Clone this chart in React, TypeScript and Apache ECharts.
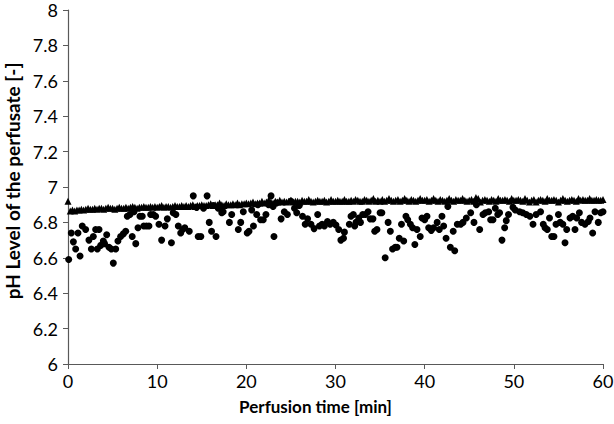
import React, { useEffect, useRef } from "react";
import * as echarts from "echarts";

const xTicks = [0, 10, 20, 30, 40, 50, 60];
const yRange = [6, 8];

const triangleTimes = [
  0, 0.25, 0.5, 0.75, 1, 1.25, 1.5, 1.75, 2, 2.25, 2.5, 2.75, 3, 3.25, 3.5, 3.75, 4, 4.25, 4.5, 4.75,
  5, 5.25, 5.5, 5.75, 6, 6.25, 6.5, 6.75, 7, 7.25, 7.5, 7.75, 8, 8.25, 8.5, 8.75, 9, 9.25, 9.5, 9.75,
  10, 10.25, 10.5, 10.75, 11, 11.25, 11.5, 11.75, 12, 12.25, 12.5, 12.75, 13, 13.25, 13.5, 13.75, 14, 14.25, 14.5, 14.75,
  15, 15.25, 15.5, 15.75, 16, 16.25, 16.5, 16.75, 17, 17.25, 17.5, 17.75, 18, 18.25, 18.5, 18.75, 19, 19.25, 19.5, 19.75,
  20, 20.25, 20.5, 20.75, 21, 21.25, 21.5, 21.75, 22, 22.25, 22.5, 22.75, 23, 23.25, 23.5, 23.75, 24, 24.25, 24.5, 24.75,
  25, 25.25, 25.5, 25.75, 26, 26.25, 26.5, 26.75, 27, 27.25, 27.5, 27.75, 28, 28.25, 28.5, 28.75, 29, 29.25, 29.5, 29.75,
  30, 30.25, 30.5, 30.75, 31, 31.25, 31.5, 31.75, 32, 32.25, 32.5, 32.75, 33, 33.25, 33.5, 33.75, 34, 34.25, 34.5, 34.75,
  35, 35.25, 35.5, 35.75, 36, 36.25, 36.5, 36.75, 37, 37.25, 37.5, 37.75, 38, 38.25, 38.5, 38.75, 39, 39.25, 39.5, 39.75,
  40, 40.25, 40.5, 40.75, 41, 41.25, 41.5, 41.75, 42, 42.25, 42.5, 42.75, 43, 43.25, 43.5, 43.75, 44, 44.25, 44.5, 44.75,
  45, 45.25, 45.5, 45.75, 46, 46.25, 46.5, 46.75, 47, 47.25, 47.5, 47.75, 48, 48.25, 48.5, 48.75, 49, 49.25, 49.5, 49.75,
  50, 50.25, 50.5, 50.75, 51, 51.25, 51.5, 51.75, 52, 52.25, 52.5, 52.75, 53, 53.25, 53.5, 53.75, 54, 54.25, 54.5, 54.75,
  55, 55.25, 55.5, 55.75, 56, 56.25, 56.5, 56.75, 57, 57.25, 57.5, 57.75, 58, 58.25, 58.5, 58.75, 59, 59.25, 59.5, 59.75,
  60,
];

const triangleValues = [
  6.92, 6.865, 6.87, 6.865, 6.87, 6.87, 6.875, 6.87, 6.875, 6.88, 6.875, 6.875, 6.88, 6.875, 6.88, 6.88, 6.875, 6.88, 6.885, 6.88,
  6.88, 6.875, 6.88, 6.885, 6.88, 6.88, 6.885, 6.88, 6.885, 6.89, 6.885, 6.88, 6.885, 6.885, 6.89, 6.885, 6.885, 6.89, 6.885, 6.89,
  6.885, 6.89, 6.895, 6.885, 6.89, 6.89, 6.885, 6.89, 6.895, 6.89, 6.89, 6.895, 6.89, 6.895, 6.89, 6.895, 6.9, 6.89, 6.895, 6.895,
  6.9, 6.895, 6.895, 6.9, 6.905, 6.895, 6.9, 6.9, 6.91, 6.9, 6.895, 6.905, 6.9, 6.9, 6.905, 6.9, 6.91, 6.9, 6.905, 6.905,
  6.91, 6.905, 6.91, 6.915, 6.905, 6.91, 6.91, 6.92, 6.91, 6.915, 6.925, 6.915, 6.91, 6.92, 6.915, 6.925, 6.915, 6.92, 6.915, 6.92,
  6.925, 6.915, 6.92, 6.92, 6.915, 6.925, 6.92, 6.92, 6.93, 6.92, 6.915, 6.92, 6.925, 6.92, 6.92, 6.925, 6.915, 6.92, 6.93, 6.92,
  6.92, 6.925, 6.92, 6.92, 6.93, 6.92, 6.92, 6.925, 6.92, 6.93, 6.925, 6.92, 6.92, 6.93, 6.925, 6.92, 6.925, 6.935, 6.92, 6.925,
  6.92, 6.93, 6.92, 6.925, 6.935, 6.925, 6.92, 6.925, 6.93, 6.92, 6.925, 6.935, 6.925, 6.92, 6.93, 6.925, 6.92, 6.925, 6.935, 6.925,
  6.925, 6.93, 6.92, 6.925, 6.935, 6.925, 6.92, 6.93, 6.925, 6.92, 6.925, 6.935, 6.925, 6.92, 6.93, 6.925, 6.925, 6.935, 6.925, 6.92,
  6.925, 6.93, 6.92, 6.94, 6.935, 6.915, 6.925, 6.93, 6.925, 6.92, 6.93, 6.925, 6.92, 6.935, 6.925, 6.925, 6.93, 6.925, 6.92, 6.935,
  6.925, 6.925, 6.93, 6.925, 6.92, 6.935, 6.925, 6.915, 6.925, 6.93, 6.915, 6.925, 6.93, 6.925, 6.92, 6.935, 6.925, 6.925, 6.93, 6.925,
  6.915, 6.925, 6.935, 6.925, 6.92, 6.925, 6.93, 6.925, 6.92, 6.935, 6.925, 6.93, 6.925, 6.925, 6.935, 6.925, 6.925, 6.93, 6.925, 6.925,
  6.93,
];

const circleData: [number, number][] = [
  [0.08, 6.59], [0.37, 6.74], [0.6, 6.69], [0.86, 6.65], [1.12, 6.74], [1.35, 6.61], [1.6, 6.78], [1.98, 6.76],
  [2.35, 6.7], [2.62, 6.65], [2.84, 6.72], [3.1, 6.76], [3.29, 6.65], [3.48, 6.76], [3.66, 6.67], [3.96, 6.695],
  [4.1, 6.68], [4.34, 6.73], [4.6, 6.66], [4.86, 6.65], [5.08, 6.57], [5.35, 6.65], [5.6, 6.695], [5.9, 6.72],
  [6.2, 6.735], [6.47, 6.75], [6.65, 6.835], [6.95, 6.845], [7.2, 6.72], [7.4, 6.86], [7.6, 6.68], [7.85, 6.77],
  [8.07, 6.835], [8.33, 6.835], [8.5, 6.78], [8.8, 6.78], [9.08, 6.78], [9.27, 6.845], [9.57, 6.845], [9.83, 6.835],
  [10.2, 6.79], [10.5, 6.7], [10.88, 6.78], [11.14, 6.82], [11.6, 6.685], [11.8, 6.855], [12.1, 6.845], [12.37, 6.78],
  [12.64, 6.74], [12.86, 6.76], [13.1, 6.77], [13.6, 6.75], [14.05, 6.95], [14.43, 6.885], [14.6, 6.72], [14.9, 6.72],
  [15.2, 6.88], [15.6, 6.95], [15.84, 6.8], [16.1, 6.75], [16.3, 6.895], [16.6, 6.72], [16.85, 6.88], [17.24, 6.855],
  [17.4, 6.86], [18.1, 6.8], [18.36, 6.845], [19.1, 6.76], [19.37, 6.8], [19.66, 6.86], [20.1, 6.74], [20.3, 6.75],
  [20.6, 6.87], [20.8, 6.78], [21.16, 6.845], [21.3, 6.9], [21.6, 6.815], [21.9, 6.815], [22.2, 6.845], [22.5, 6.9],
  [22.77, 6.95], [23.0, 6.89], [23.1, 6.72], [23.4, 6.91], [23.9, 6.82], [24.26, 6.86], [24.6, 6.845], [25.0, 6.92],
  [25.4, 6.88], [25.65, 6.855], [25.94, 6.895], [26.3, 6.835], [26.6, 6.79], [26.87, 6.82], [27.25, 6.79], [27.6, 6.765],
  [28.0, 6.845], [28.2, 6.78], [28.5, 6.79], [28.75, 6.78], [29.1, 6.805], [29.4, 6.79], [29.75, 6.8], [30.05, 6.785],
  [30.36, 6.76], [30.6, 6.7], [30.9, 6.71], [31.0, 6.745], [31.55, 6.79], [31.74, 6.835], [32.0, 6.845], [32.15, 6.78],
  [32.3, 6.8], [32.6, 6.825], [32.8, 6.8], [33.05, 6.845], [33.35, 6.845], [33.65, 6.86], [33.9, 6.82], [34.2, 6.82],
  [34.4, 6.75], [34.65, 6.76], [35.0, 6.855], [35.2, 6.855], [35.57, 6.6], [35.9, 6.8], [36.15, 6.75], [36.4, 6.65],
  [36.7, 6.66], [36.9, 6.66], [37.15, 6.71], [37.4, 6.79], [37.65, 6.695], [37.9, 6.835], [38.1, 6.815], [38.4, 6.79],
  [38.65, 6.77], [38.9, 6.675], [39.14, 6.76], [39.5, 6.72], [39.7, 6.825], [40.0, 6.815], [40.26, 6.835], [40.45, 6.77],
  [40.74, 6.755], [41.0, 6.77], [41.4, 6.8], [41.64, 6.76], [41.94, 6.835], [42.13, 6.78], [42.4, 6.71], [42.6, 6.89],
  [42.88, 6.66], [43.2, 6.75], [43.37, 6.64], [43.66, 6.79], [44.04, 6.79], [44.3, 6.8], [44.67, 6.825], [45.16, 6.855],
  [45.53, 6.8], [45.8, 6.9], [46.17, 6.76], [46.54, 6.845], [46.8, 6.855], [47.18, 6.86], [47.4, 6.815], [47.66, 6.815],
  [47.92, 6.88], [48.2, 6.845], [48.4, 6.855], [48.67, 6.7], [48.97, 6.77], [49.15, 6.81], [49.4, 6.845], [49.9, 6.885],
  [50.16, 6.87], [50.65, 6.86], [51.0, 6.855], [51.4, 6.845], [51.8, 6.835], [52.15, 6.79], [52.5, 6.845], [53.0, 6.86],
  [53.3, 6.79], [53.5, 6.77], [53.75, 6.76], [54.0, 6.825], [54.25, 6.72], [54.5, 6.72], [54.73, 6.79], [55.0, 6.845],
  [55.2, 6.8], [55.5, 6.79], [55.74, 6.685], [55.93, 6.76], [56.3, 6.825], [56.6, 6.835], [56.86, 6.76], [57.05, 6.825],
  [57.35, 6.855], [57.6, 6.8], [57.98, 6.79], [58.35, 6.805], [58.54, 6.825], [58.84, 6.74], [59.1, 6.86], [59.47, 6.8],
  [59.74, 6.855], [60.0, 6.86],
];

const xTitle = "Perfusion time [min]";
const yTitle = "pH Level of the perfusate [-]";

export default function App() {
  const ref = useRef<HTMLDivElement>(null);
  useEffect(() => {
    if (!ref.current) return;
    const chart = echarts.init(ref.current, undefined, { renderer: "svg" });
    const font = "Lato, 'Open Sans', sans-serif";
    const axisColor = "#595959";
    chart.setOption({
      animation: false,
      backgroundColor: "#fff",
      textStyle: { fontFamily: font },
      grid: { left: 68, right: 11, top: 10, bottom: 60, containLabel: false, outerBoundsMode: "none" },
      xAxis: {
        type: "value",
        min: xTicks[0],
        max: xTicks[xTicks.length - 1],
        interval: 10,
        name: xTitle,
        nameLocation: "middle",
        nameGap: 34,
        nameTextStyle: { fontFamily: font, fontSize: 17, fontWeight: "bold", color: "#000", padding: [0, 40, 0, 0] },
        axisLine: { show: true, lineStyle: { color: axisColor, width: 1.2 } },
        axisTick: { show: true, length: 5, inside: false, lineStyle: { color: axisColor } },
        axisLabel: { fontFamily: font, fontSize: 18, lineHeight: 16, color: "#000", margin: 9 },
        splitLine: { show: false },
      },
      yAxis: {
        type: "value",
        min: yRange[0],
        max: yRange[1],
        interval: 0.2,
        name: yTitle,
        nameLocation: "middle",
        nameGap: 41,
        nameRotate: 90,
        nameTextStyle: { fontFamily: font, fontSize: 19, fontWeight: "bold", color: "#000", padding: [0, 0, 0, 12] },
        axisLine: { show: true, lineStyle: { color: axisColor, width: 1.2 } },
        axisTick: { show: true, length: 5, inside: false, lineStyle: { color: axisColor } },
        axisLabel: { fontFamily: font, fontSize: 18, lineHeight: 16, color: "#000", margin: 10 },
        splitLine: { show: false },
      },
      series: [
        {
          type: "scatter",
          name: "triangles",
          symbol: "triangle",
          symbolSize: [7, 7],
          itemStyle: { color: "#000", opacity: 1 },
          data: triangleTimes.map((t, i) => [t, triangleValues[i]]),
        },
        {
          type: "scatter",
          name: "circles",
          symbol: "circle",
          symbolSize: 7,
          itemStyle: { color: "#000", opacity: 1 },
          data: circleData,
        },
      ],
    });
    return () => chart.dispose();
  }, []);
  return <div ref={ref} style={{ width: 614, height: 424, position: "absolute", left: 0, top: 0 }} />;
}
